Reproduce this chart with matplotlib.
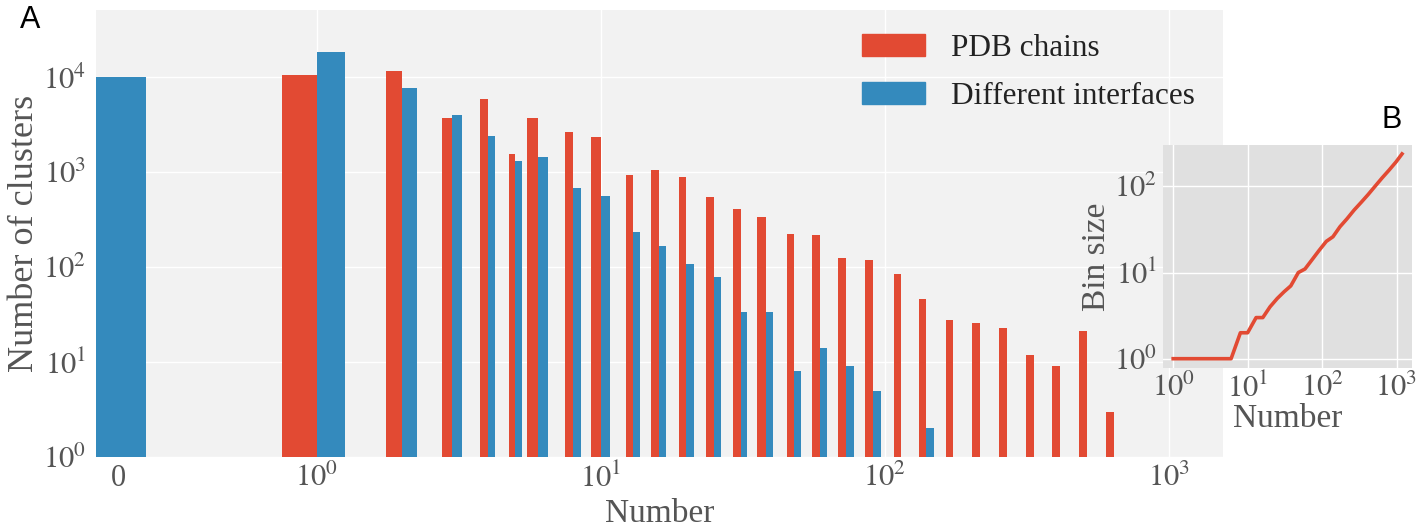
import numpy as np
import matplotlib
matplotlib.use("Agg")
import matplotlib.pyplot as plt
from matplotlib.patches import Patch

# ---------------- data ----------------
# bin positions (x) and bin sizes (inset B)
bin_x = [1, 2, 3, 4, 5, 6, 8, 10, 13, 16, 20, 25, 31, 38, 48, 59, 73, 91,
         114, 140, 174, 216, 269, 334, 414, 514, 639, 793, 985, 1186]
bin_size = [1, 1, 1, 1, 1, 1, 2, 2, 3, 3, 4, 5, 6, 7, 10, 11, 14, 18,
            23, 26, 34, 42, 53, 65, 80, 100, 125, 154, 192, 238]

# main histogram (A): positions 0 .. 639
positions = [0, 1, 2, 3, 4, 5, 6, 8, 10, 13, 16, 20, 25, 31, 38, 48, 59, 73,
             91, 114, 140, 174, 216, 269, 334, 414, 514, 639]
pdb_chains = [0, 10500, 11600, 3700, 5870, 1550, 3750, 2650, 2330, 940, 1046,
              889, 551, 406, 334, 224, 219, 125, 118, 84, 46, 28, 26, 23, 12,
              9, 21, 3]
interfaces = [10100, 18200, 7770, 4000, 2420, 1310, 1455, 686, 565, 234, 168,
              107, 79, 34, 34, 8, 14, 9, 5, 0, 2, 0, 0, 0, 0, 0, 0, 0]

x_tick_labels = ['0', r'$10^{0}$', r'$10^{1}$', r'$10^{2}$', r'$10^{3}$']
y_tick_labels = [r'$10^{0}$', r'$10^{1}$', r'$10^{2}$', r'$10^{3}$', r'$10^{4}$']

# ---------------- style ----------------
plt.rcParams['font.family'] = ['Liberation Serif', 'DejaVu Serif']
plt.rcParams['mathtext.fontset'] = 'stix'

RED = '#E24A33'
BLUE = '#348ABD'
GRAY = '#555555'

W, H = 1425, 527
fig = plt.figure(figsize=(W / 100, H / 100), dpi=100)

# ---------------- main axes ----------------
ax = fig.add_axes([96 / W, 70 / H, 1127 / W, 447 / H])
ax.set_facecolor('#f2f2f2')
ax.set_xscale('log')
ax.set_yscale('log')

# bar width = quarter of the following bin's size
next_size = bin_size[:len(positions)]
widths = [0.25 * s for s in next_size]
pos = np.array(positions, dtype=float)
wid = np.array(widths)
ax.bar(pos - wid, pdb_chains, width=wid, align='edge', color=RED,
       label='PDB chains', zorder=2)
ax.bar(pos, interfaces, width=wid, align='edge', color=BLUE,
       label='Different interfaces', zorder=2)

ax.set_xlim(1 / 6, 1550)
ax.set_ylim(1, 5.1e4)

ax.set_xticks([1, 10, 100, 1000], x_tick_labels[1:])
ax.set_xticks([0.2], x_tick_labels[:1], minor=True)
ax.set_yticks([1, 10, 100, 1000, 10000], y_tick_labels)
ax.yaxis.set_minor_locator(matplotlib.ticker.NullLocator())
ax.tick_params(which='both', length=0, labelsize=22, labelcolor=GRAY)
ax.tick_params(axis='x', which='both', pad=5)
ax.tick_params(axis='y', pad=7)
ax.grid(True, which='major', color='white', linewidth=1.0, zorder=0)
ax.set_axisbelow(True)
for sp in ax.spines.values():
    sp.set_visible(False)

ax.set_xlabel('Number', fontsize=24, color=GRAY, labelpad=3)
ax.set_ylabel('Number of clusters', fontsize=26, color=GRAY)
ax.yaxis.set_label_coords(-0.049, 0.5)

handles = [Patch(color=RED), Patch(color=BLUE)]
leg = ax.legend(handles, ['PDB chains', 'Different interfaces'],
                loc='upper left', bbox_to_anchor=(862 / W, 1 - 34 / H),
                bbox_transform=fig.transFigure, frameon=False,
                fontsize=22.5, handlelength=2.0, handleheight=0.7,
                handletextpad=0.85, labelspacing=0.62, borderpad=0,
                borderaxespad=0)
for t in leg.get_texts():
    t.set_color('#222222')

# ---------------- inset axes ----------------
axi = fig.add_axes([1163 / W, (H - 368) / H, 249 / W, 223 / H])
axi.set_facecolor('#e0e0e0')
axi.set_xscale('log')
axi.set_yscale('log')
axi.plot(bin_x, bin_size, color=RED, linewidth=2.6, zorder=3)
axi.set_xlim(0.73, 1615)
axi.set_ylim(0.78, 302)
axi.set_xticks([1, 10, 100, 1000], x_tick_labels[1:])
axi.set_yticks([1, 10, 100], y_tick_labels[:3])
axi.xaxis.set_minor_locator(matplotlib.ticker.NullLocator())
axi.yaxis.set_minor_locator(matplotlib.ticker.NullLocator())
axi.tick_params(which='both', length=0, labelsize=22, labelcolor=GRAY, pad=4)
axi.grid(True, which='major', color='white', linewidth=1.0)
axi.set_axisbelow(True)
for sp in axi.spines.values():
    sp.set_visible(False)
axi.set_xlabel('Number', fontsize=24, color=GRAY, labelpad=0)
axi.set_ylabel('Bin size', fontsize=24, color=GRAY, labelpad=2)

# panel letters
fig.text(30 / W, 1 - 20 / H, 'A', fontsize=22, family=['Liberation Sans'],
         ha='center', va='center', color='black')
fig.text(1392 / W, 1 - 120 / H, 'B', fontsize=22, family=['Liberation Sans'],
         ha='center', va='center', color='black')

fig.savefig('out.png', dpi=100)
